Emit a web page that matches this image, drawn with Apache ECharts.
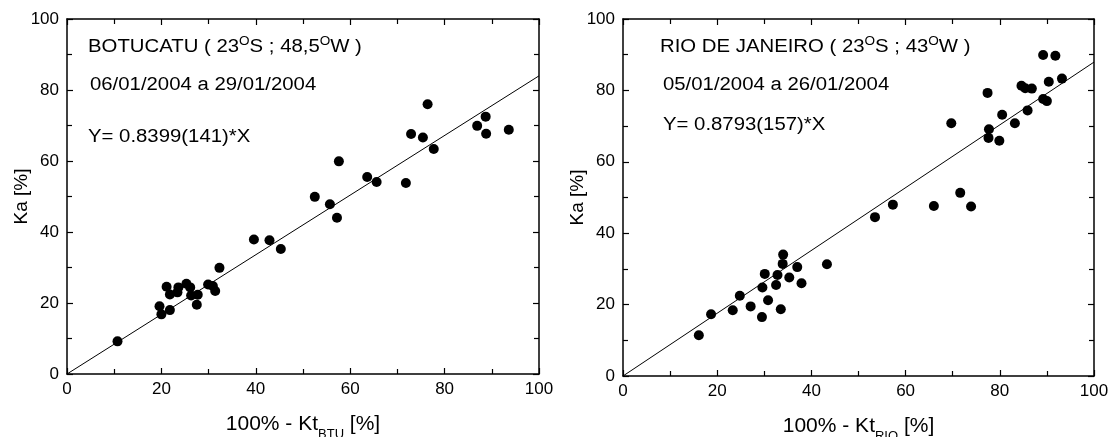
<!DOCTYPE html>
<html><head><meta charset="utf-8">
<script src="https://cdn.jsdelivr.net/npm/echarts@6/dist/echarts.min.js"></script>
<style>html,body{margin:0;padding:0;background:#fff}#c{width:1110px;height:437px}</style>
</head><body><div id="c"></div>
<script>
const botucatuPoints = [
  [76.4,76.0],[88.7,72.5],[86.9,69.9],[88.8,67.7],[93.6,68.8],[72.9,67.6],[75.4,66.6],[77.7,63.4],
  [57.6,59.9],[63.6,55.5],[65.6,54.1],[71.8,53.8],[52.5,49.9],[55.7,47.8],[57.2,44.0],
  [39.6,37.9],[42.9,37.7],[45.3,35.2],[32.3,29.9],[21.1,24.6],[21.8,22.4],[23.6,24.4],[23.4,23.0],
  [25.3,25.4],[26.1,24.4],[26.3,22.1],[27.7,22.3],[27.5,19.5],[29.9,25.2],[30.9,24.8],[31.4,23.4],
  [19.6,19.1],[20.0,16.8],[21.8,18.0],[10.7,9.2]
];
const rioPoints = [
  [89.2,89.9],[91.8,89.7],[93.2,83.3],[90.4,82.4],[84.6,81.3],[85.4,80.6],[86.8,80.5],[89.2,77.6],
  [90.0,77.0],[85.9,74.4],[83.2,70.8],[80.5,73.2],[77.4,79.3],[77.7,69.1],[77.6,66.7],[79.9,65.9],
  [69.7,70.8],[71.6,51.3],[73.9,47.5],[66.0,47.6],[57.3,48.0],[53.5,44.5],
  [43.3,31.3],[34.0,34.0],[33.9,31.4],[37.0,30.5],[35.3,27.6],[37.9,26.0],[30.1,28.6],[32.8,28.3],
  [32.5,25.5],[29.6,24.8],[30.8,21.2],[24.8,22.5],[27.1,19.5],[23.3,18.4],[33.5,18.7],[29.5,16.5],
  [18.7,17.3],[16.1,11.4]
];
const botucatuSlope = 0.8399;
const rioSlope = 0.8793;
const axisMin = 0, axisMax = 100, axisStep = 20;

const FONT = '"Liberation Sans", Arial, sans-serif';
const chart = echarts.init(document.getElementById('c'));

const tickStyle = {inside:true, length:6, lineStyle:{color:'#000', width:1.2}};
const minorStyle = {show:true, splitNumber:2, length:5, lineStyle:{color:'#000', width:1.2}};
const lineStyle = {onZero:false, lineStyle:{color:'#000', width:1.5}};

function xAx(gi, sub){
  return [{
    gridIndex: gi, type:'value', min:axisMin, max:axisMax, interval:axisStep, position:'bottom',
    axisLine:lineStyle, axisTick:tickStyle, minorTick:minorStyle, splitLine:{show:false},
    axisLabel:{color:'#000', fontFamily:FONT, fontSize:17, margin:7},
    name: '100% - Kt{s|'+sub+'} [%]', nameLocation:'middle', nameGap:40, nameMoveOverlap:false,
    nameTextStyle:{color:'#000', fontFamily:FONT, fontSize:21,
      rich:{s:{fontSize:13, fontFamily:FONT, color:'#000', verticalAlign:'bottom', padding:[0,0,-6,0]}}}
  },{
    gridIndex: gi, type:'value', min:axisMin, max:axisMax, interval:axisStep, position:'top',
    axisLine:lineStyle, axisTick:tickStyle, minorTick:minorStyle, splitLine:{show:false}, axisLabel:{show:false}
  }];
}
function yAx(gi){
  return [{
    gridIndex: gi, type:'value', min:axisMin, max:axisMax, interval:axisStep, position:'left',
    axisLine:lineStyle, axisTick:tickStyle, minorTick:minorStyle, splitLine:{show:false},
    axisLabel:{color:'#000', fontFamily:FONT, fontSize:17, margin:8},
    name:'Ka [%]', nameLocation:'middle', nameGap:36, nameRotate:90, nameMoveOverlap:false,
    nameTextStyle:{color:'#000', fontFamily:FONT, fontSize:19}
  },{
    gridIndex: gi, type:'value', min:axisMin, max:axisMax, interval:axisStep, position:'right',
    axisLine:lineStyle, axisTick:tickStyle, minorTick:minorStyle, splitLine:{show:false}, axisLabel:{show:false}
  }];
}

const richT = {
  t:{fontSize:18, fontFamily:FONT, color:'#000', lineHeight:22},
  o:{fontSize:12, fontFamily:FONT, color:'#000', verticalAlign:'top', lineHeight:22, padding:[0,0,11,0]}
};
function txt(x, y, s){
  return {type:'text', x:x, y:y, scaleX:1.13, style:{text:s, rich:richT, font:'18px '+FONT, fill:'#000'}};
}

chart.setOption({
  animation:false,
  grid:[
    {left:67, top:19, width:472, height:355, outerBoundsMode:'none', containLabel:false},
    {left:623, top:19, width:471, height:357, outerBoundsMode:'none', containLabel:false}
  ],
  xAxis:[...xAx(0,'BTU'), ...xAx(1,'RIO')],
  yAxis:[...yAx(0), ...yAx(1)],
  series:[
    {type:'scatter', xAxisIndex:0, yAxisIndex:0, data:botucatuPoints, symbolSize:10, itemStyle:{color:'#000', opacity:1}},
    {type:'line', xAxisIndex:0, yAxisIndex:0, data:[[axisMin,botucatuSlope*axisMin],[axisMax,botucatuSlope*axisMax]], symbol:'none', lineStyle:{color:'#000', width:1}},
    {type:'scatter', xAxisIndex:2, yAxisIndex:2, data:rioPoints, symbolSize:10, itemStyle:{color:'#000', opacity:1}},
    {type:'line', xAxisIndex:2, yAxisIndex:2, data:[[axisMin,rioSlope*axisMin],[axisMax,rioSlope*axisMax]], symbol:'none', lineStyle:{color:'#000', width:1}}
  ],
  graphic:[
    txt(88, 36, '{t|BOTUCATU ( 23}{o|O}{t|S ; 48,5}{o|O}{t|W )}'),
    txt(90, 74, '{t|06/01/2004 a 29/01/2004}'),
    txt(88, 126, '{t|Y= 0.8399(141)*X}'),
    txt(660, 36, '{t|RIO DE JANEIRO ( 23}{o|O}{t|S ; 43}{o|O}{t|W )}'),
    txt(663, 74, '{t|05/01/2004 a 26/01/2004}'),
    txt(663, 114, '{t|Y= 0.8793(157)*X}')
  ]
});
</script></body></html>
